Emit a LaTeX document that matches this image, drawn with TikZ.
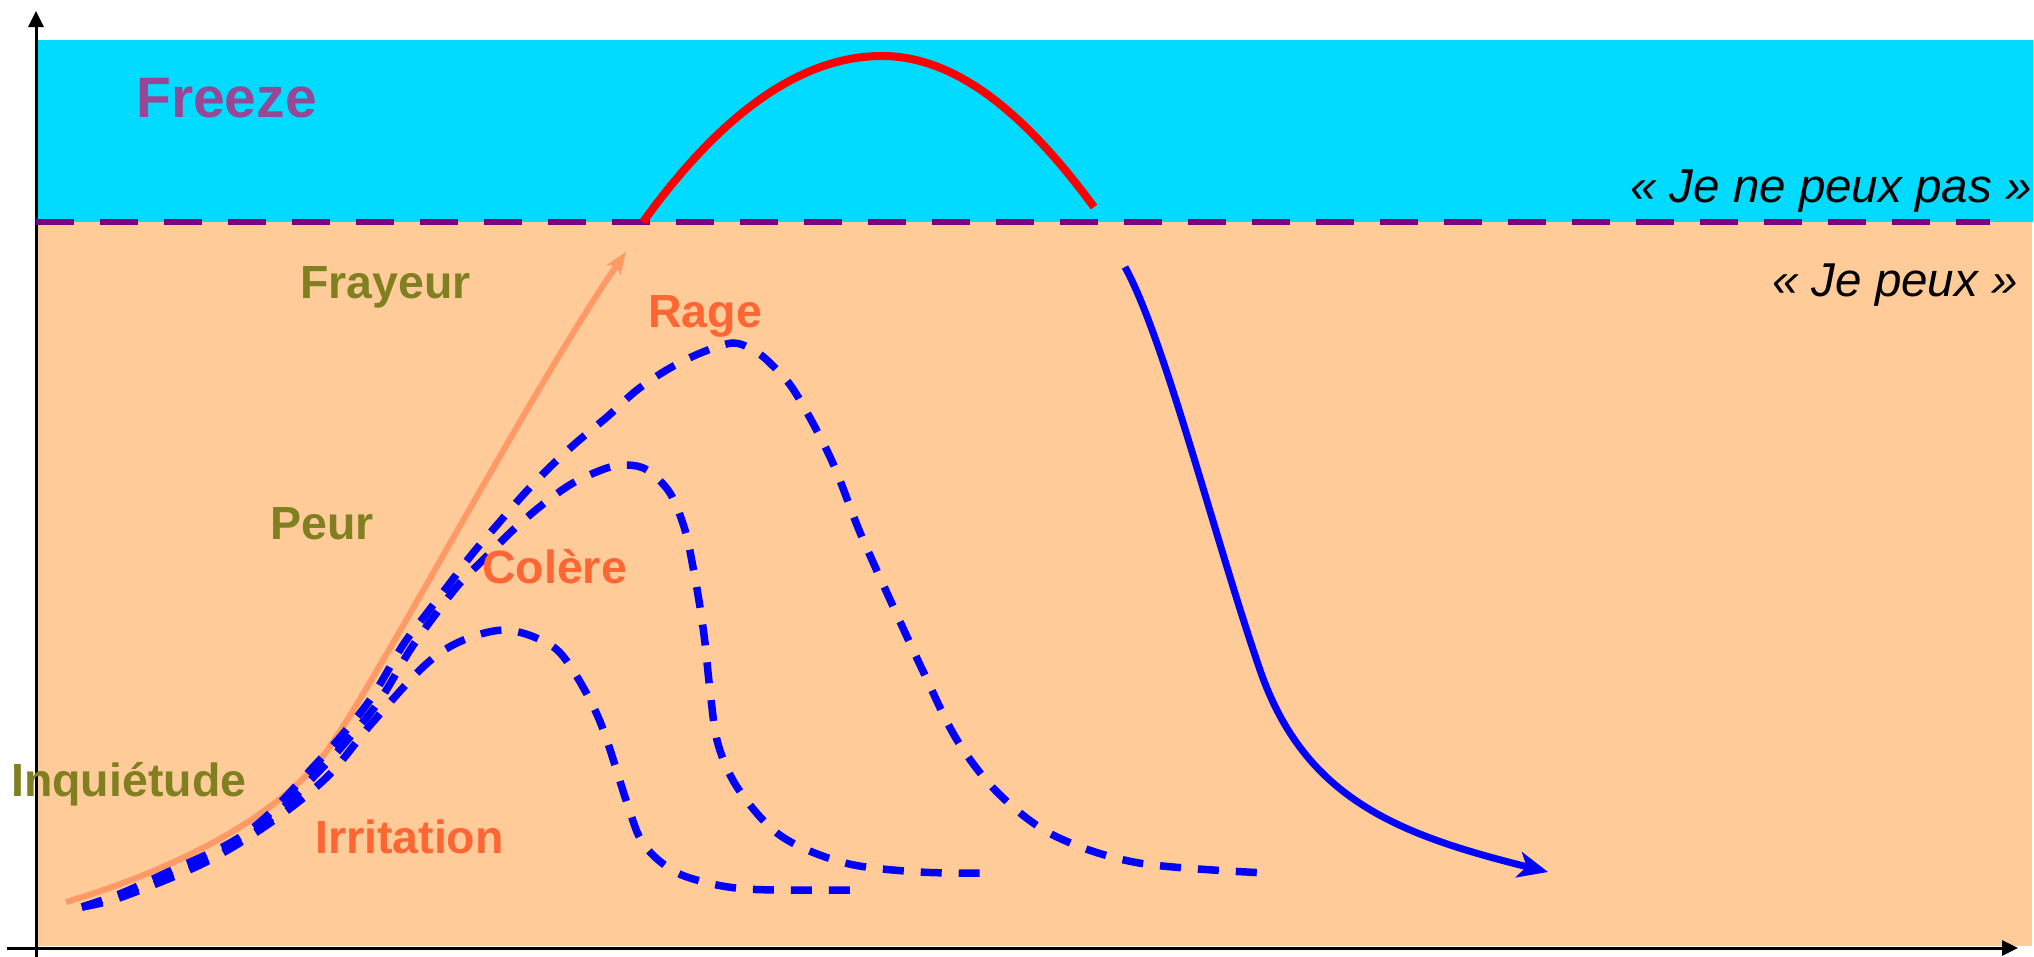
\documentclass[tikz,border=0pt]{standalone}
\usepackage{fontspec}
\setmainfont{Liberation Sans}
\usetikzlibrary{arrows.meta}
\definecolor{cyanbg}{RGB}{0,219,255}
\definecolor{peach}{RGB}{255,203,153}
\definecolor{purpl}{RGB}{128,0,128}
\definecolor{freezec}{RGB}{150,72,150}
\definecolor{olivetxt}{RGB}{128,128,32}
\definecolor{orangetxt}{RGB}{255,102,51}
\definecolor{lightor}{RGB}{255,153,102}
\tikzset{
  lbl/.style={anchor=base west, inner sep=0pt, font=\bfseries\fontsize{46.5bp}{50bp}\selectfont},
  emo/.style={lbl, text=olivetxt},
  ang/.style={lbl, text=orangetxt},
  quot/.style={anchor=base west, inner sep=0pt, text=black, font=\itshape\fontsize{47.5bp}{50bp}\selectfont},
  blued/.style={draw=blue, line width=7.5bp, dash pattern=on 21bp off 17bp},
  axisline/.style={draw=black, line width=3bp, -{Triangle[length=16bp,width=15bp]}},
}
\begin{document}
\begin{tikzpicture}[x=1bp,y=-1bp]
\useasboundingbox (0,0) rectangle (2034,957);
% zones
\fill[cyanbg] (36,40) rectangle (2033,222);
\fill[peach] (37,222) rectangle (2032,946);
% axes
\coordinate (yb) at (36,957);
\coordinate (yt) at (36,11);
\coordinate (xl) at (7,948);
\coordinate (xr) at (2018,948);
\draw[axisline] (yb) -- (yt);
\draw[axisline] (xl) -- (xr);
% threshold
\coordinate (tl) at (36,222);
\coordinate (tr) at (1990,222);
\draw[purpl, line width=6.5bp, dash pattern=on 37.5bp off 26.5bp] (tl) -- (tr);
% light orange arrow
\coordinate (o0) at (66,902);
\coordinate (o1) at (320,760);
\coordinate (o2) at (626,252);
\draw[lightor, line width=6bp, -{Stealth[length=22bp,width=17bp,inset=6bp]}]
  (o0) .. controls (190,865) and (278,812) .. (o1)
       .. controls (366,703) and (530,390) .. (o2);
% dashed curves
\draw[blued] plot[smooth, tension=0.55] coordinates {(82,907) (122,897) (204,863) (270,823) (327,777) (372,723) (423,667) (459,642) (503,630) (541,640) (566,660) (599,719) (627,803) (641,840) (662,863) (690,878) (746,889) (852,890)};
\draw[blued] plot[smooth, tension=0.55] coordinates {(82,907) (125,893) (172,874) (235,845) (275,815) (325,765) (350,737) (380,700) (410,650) (435,615) (460,583) (485,558) (513,530) (542,505) (573,483) (607,468) (627,465) (647,470) (670,493) (685,530) (693,567) (700,607) (705,643) (710,690) (718,744) (739,790) (781,836) (845,863) (920,872) (992,873)};
\draw[blued] plot[smooth, tension=0.55] coordinates {(82,907) (122,893) (168,872) (230,843) (268,815) (315,765) (342,735) (372,697) (403,645) (427,613) (450,583) (473,553) (497,525) (523,495) (550,467) (577,442) (607,417) (637,390) (670,368) (703,352) (733,343) (753,350) (770,363) (795,392) (831,459) (859,530) (887,593) (922,669) (957,740) (999,794) (1055,836) (1139,863) (1266,873)};
% red curve
\coordinate (r0) at (643,222);
\coordinate (r1) at (882,56);
\coordinate (r2) at (1094,207);
\draw[red, line width=8bp] (r0) .. controls (720,115) and (800,56) .. (r1)
   .. controls (960,56) and (1030,120) .. (r2);
% blue arrow
\coordinate (b0) at (1125,267);
\coordinate (b1) at (1260,670);
\coordinate (b2) at (1548,872);
\draw[blue, line width=7bp, -{Stealth[length=30bp,width=26bp,inset=8bp]}]
  (b0) .. controls (1165,340) and (1215,540) .. (b1)
       .. controls (1305,800) and (1400,835) .. (b2);
% labels
\node[anchor=base west, inner sep=0pt, text=freezec, font=\bfseries\fontsize{57bp}{60bp}\selectfont] (freeze) at (136,117) {Freeze};
\node[emo] (frayeur) at (300,298) {Frayeur};
\node[emo] (peur) at (270,539) {Peur};
\node[emo] (inquietude) at (11,796) {Inquiétude};
\node[ang] (rage) at (648,327) {Rage};
\node[ang] (colere) at (482,583) {Colère};
\node[ang] (irritation) at (315,853) {Irritation};
\node[quot] (nepeux) at (1630,202) {«~Je ne peux pas~»};
\node[quot] (peux) at (1772,296) {«~Je peux~»};
\end{tikzpicture}
\end{document}
